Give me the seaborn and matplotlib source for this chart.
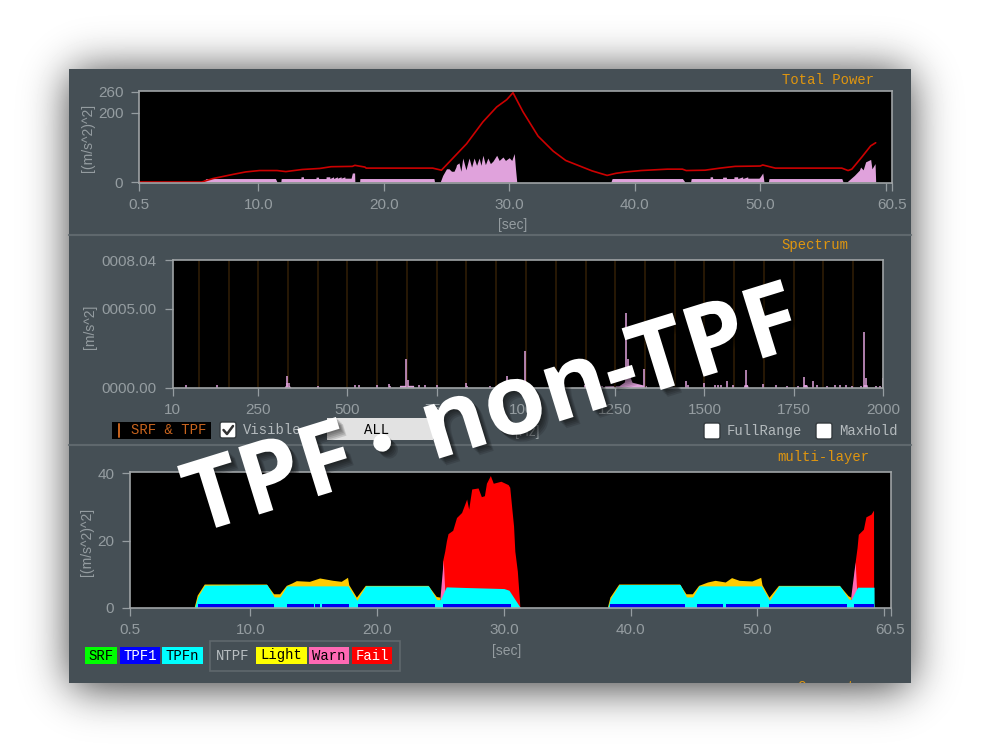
import math

import numpy as np
import seaborn as sns
from matplotlib import patheffects as pe
from matplotlib import pyplot as plt
from matplotlib.patches import FancyBboxPatch, Rectangle

W, H = 981, 752
PANEL = '#454f55'
GREY = '#959da1'
ORANGE = '#e0960f'
PINK = '#e0a2dc'
nan = float('nan')

# Total Power
power_t = [0.5, 5.5, 6.4, 8.0, 9.0, 10.1, 11.5, 12.2, 13.5, 14.9, 15.8, 17.5, 17.7, 18.5, 18.6, 23.9, 24.6,
           26.6, 27.9, 29.0, 29.8, 30.3, 31.1, 32.3, 33.5, 34.5, 36.6, 37.8, 38.5, 39.3, 40.5, 42.6, 43.8,
           44.1, 45.6, 46.8, 48.0, 50.0, 50.2, 51.2, 56.5, 57.0, 57.3, 58.1, 58.8, 59.2]
power_v = [0, 0, 10, 22, 29, 33, 33, 30, 36, 39, 44, 45, 48, 43, 40, 40, 34,
           110, 173, 216, 237, 257, 202, 132, 89, 62, 32, 19, 25, 29, 33, 37, 37,
           33, 34, 40, 45, 46, 49, 40, 40, 33, 37, 72, 104, 113]
layer_t = [5.5, 5.86, 11.37, 11.5, 11.8, 11.83, 13.4, 13.41, 13.6, 13.61, 14.6, 14.61, 14.8, 14.81, 15.4, 15.41,
           15.7, 15.71, 16.0, 16.01, 16.3, 16.31, 16.6, 16.61, 16.9, 16.91, 17.4, 17.5, 17.68, 17.7, 18.08, 18.1,
           24.0, 24.05, 24.5, 24.7, 25.0, 25.2, 25.4, 25.6, 25.75, 25.8, 26.0, 26.15, 26.3, 26.55, 26.8, 27.0, 27.2,
           27.4, 27.6, 27.75, 27.9, 28.1, 28.3, 28.5, 28.7, 29.0, 29.2, 29.5, 29.7, 30.0, 30.2, 30.4, 30.5, 30.6,
           38.1, 38.2, 43.8, 44.0, 44.45, 44.5, 46.0, 46.01, 46.2, 46.21, 47.0, 47.01, 47.3, 47.31, 47.9, 47.91,
           48.2, 48.21, 48.6, 48.61, 49.0, 49.01, 49.9, 50.0, 50.2, 50.3, 50.65, 50.7, 56.5, 56.6, 56.9, 57.5,
           57.9, 58.0, 58.2, 58.4, 58.8, 58.9, 59.15, 59.2]
layer_v = [0, 10, 10, 0, 0, 10, 10, 15, 15, 10, 10, 14, 14, 10, 10, 15,
           15, 10, 15, 10, 15, 11, 15, 11, 15, 11, 11, 26, 26, 0, 0, 10,
           10, 0, 0, 19, 38, 38, 31, 31, 43, 50, 55, 31, 69, 35, 69, 43, 69,
           48, 69, 48, 77, 50, 69, 53, 60, 77, 62, 72, 62, 70, 62, 82, 38, 0,
           0, 10, 10, 0, 0, 10, 10, 15, 15, 10, 10, 14, 14, 10, 10, 15,
           15, 10, 15, 10, 15, 11, 11, 15, 26, 0, 0, 10, 10, 0, 0, 19,
           34, 43, 35, 58, 65, 38, 53, 0]

# Spectrum
order_hz = [83, 167, 250, 333, 417, 500, 583, 667, 750, 833, 917, 1000, 1083, 1167, 1250, 1333, 1417, 1500,
            1583, 1667, 1750, 1833, 1917]
peak_hz = [49, 134, 330, 332, 335, 417, 521, 533, 584, 615, 620, 665, 670, 701, 716, 750, 832, 836, 898,
           947, 953, 959, 998, 1003, 1066, 1083, 1164, 1194, 1213, 1281, 1286, 1331, 1449, 1454, 1498, 1530,
           1537, 1545, 1564, 1581, 1615, 1664, 1699, 1730, 1763, 1780, 1805, 1816, 1844, 1865, 1879, 1897,
           1914, 1937, 1948, 1952, 1980, 1991, 1999]
peak_v = [0.15, 0.15, 0.3, 0.75, 0.3, 0.12, 0.15, 0.15, 0.15, 0.25, 0.12, 1.8, 0.5, 0.15, 0.15, 0.15, 0.3, 0.1, 0.12,
          0.75, 0.2, 0.12, 2.3, 0.3, 0.12, 0.12, 0.2, 0.12, 0.1, 4.7, 1.8, 1.2, 0.4, 0.15, 0.28, 0.15,
          0.2, 0.15, 0.4, 0.2, 1.1, 0.25, 0.15, 0.12, 0.12, 0.65, 0.4, 0.15, 0.12, 0.2, 0.2, 0.15,
          0.12, 0.12, 3.5, 0.6, 0.12, 0.12, 0.6]
hump_hz = [322, 325, 338, 342, 645, 646, 685, 686, 1219, 1220, 1260, 1275, 1281, 1291, 1297, 1337, 1338,
           1608, 1611, 1620, 1623, 1774, 1778, 1786, 1790, 1943, 1945, 1955, 1957]
hump_v = [0, 0.12, 0.12, 0, 0, 0.15, 0.15, 0, 0, 0.1, 0.12, 0.35, 0.7, 0.7, 0.35, 0.12, 0,
          0, 0.2, 0.2, 0, 0, 0.2, 0.2, 0, 0, 0.2, 0.2, 0]

# multi-layer
cyan_t = [5.6, 5.84, 6.4, 11.3, 11.87, 12.34, 12.87, 17.7, 18.4, 19.1, 24.05, 24.7, 25.0, 25.45, 27.1, 30.0, 30.4,
          31.3, 38.2, 38.4, 39.1, 43.9, 44.4, 44.9, 45.4, 50.3, 50.95, 51.7, 56.5, 57.2, 57.4, 57.9, 59.2, 59.21]
cyan_v = [0, 3.2, 6.7, 6.9, 3.2, 3.2, 6.5, 6.5, 2.2, 6.5, 6.5, 2.4, 2.4, 6.2, 6.0, 5.7, 5.2,
          0, 0, 2.7, 6.9, 6.9, 3.2, 3.2, 6.5, 6.5, 2.2, 6.5, 6.5, 2.6, 2.4, 6.1, 6.1, 0]
gold_t = [5.6, 5.84, 6.4, 11.3, 11.87, 12.34, 12.87, 13.3, 13.66, 14.7, 15.5, 16.55, 17.2, 17.7, 17.8, 18.4, 19.1,
          24.05, 24.7, 25.0, nan, 38.2, 38.4, 39.1, 43.9, 44.4, 44.9, 45.4, 46.1, 46.7, 47.5, 48.0, 48.6, 49.6, 50.3,
          50.4, 50.95, 51.7, 56.5, 57.2, 57.4]
gold_v = [0, 3.6, 6.9, 6.9, 4.0, 4.0, 6.5, 7.2, 7.9, 7.7, 8.7, 8.0, 7.7, 8.9, 6.7, 3.0, 6.5,
          6.5, 3.2, 3.0, nan, 0, 3.0, 6.9, 6.9, 4.0, 4.0, 6.5, 7.5, 8.0, 7.5, 8.8, 8.0, 7.8, 8.9,
          6.7, 3.0, 6.5, 6.5, 3.4, 3.0]
warn_t = [25.0, 25.25, 25.4, nan, 57.4, 57.75, 57.9]
warn_v = [3.0, 14.0, 3.0, nan, 3.0, 13.5, 3.0]
fail_t = [25.2, 25.37, 25.5, 25.63, 26.0, 26.3, 26.7, 27.1, 27.26, 27.5, 28.0, 28.26, 28.5, 28.66, 28.97, 29.2, 29.8,
          30.37, 30.5, 30.68, 30.8, 30.9, 31.1, 31.3, nan, 57.5, 57.75, 57.9, 58.0, 58.4, 58.6, 59.0, 59.2, 59.21]
fail_v = [13.7, 16.7, 19.7, 21.9, 22.9, 26.7, 28.2, 32.2, 29.2, 35.2, 35.5, 32.9, 33.2, 36.9, 39.2, 36.9, 37.5,
          36.5, 35.7, 28.7, 24.2, 16.7, 10.7, 0, nan, 3, 13.5, 17.7, 21.7, 23.2, 26.9, 27.7, 28.9, 0]
tpf1_start = [5.9, 12.9, 15.1, 15.63, 18.5, 25.2, 38.4, 45.2, 47.5, 50.9, 57.65]
tpf1_end = [11.87, 15.0, 15.5, 17.8, 24.6, 30.55, 44.3, 47.3, 50.2, 57.1, 59.2]

sec_ticks = [0.5, 10, 20, 30, 40, 50, 60, 60.5]
sec_labels = ['0.5', '10.0', '20.0', '30.0', '40.0', '50.0', '', '60.5']
hz_ticks = [10, 250, 500, 750, 1000, 1250, 1500, 1750, 2000]


def add_axes(left, top, right, bottom):
    ax = fig.add_axes([left / W, 1 - bottom / H, (right - left) / W, (bottom - top) / H], zorder=2)
    ax.set_facecolor('black')
    for spine in ax.spines.values():
        spine.set_color('#9ea3a5')
        spine.set_linewidth(1.2)
    ax.grid(False)
    ax.tick_params(colors=GREY, length=5.8, width=0.9, pad=5.5, labelsize=11, bottom=True, left=True)
    return ax


def mono(x, y, s, color='#b4babd', size=10, **kw):
    return bg.text(x, y, s, color=color, fontsize=size, family='Liberation Mono', ha='center', va='center', **kw)


def plain(x, y, s, rotation=0):
    bg.text(x, y, s, color=GREY, fontsize=10, family='Liberation Sans', ha='center', va='center', rotation=rotation)


def chip(left, right, top, bottom, color, s, text_color):
    bg.add_patch(Rectangle((left, top), right - left, bottom - top, color=color, lw=0))
    mono((left + right) / 2, (top + bottom) / 2, s, color=text_color, size=10)


def checkbox(left, top, checked=False):
    bg.add_patch(FancyBboxPatch((left + 1, top + 1), 14, 14, boxstyle='round,pad=1,rounding_size=2',
                                fc='white', ec='#33393d', lw=1))
    if checked:
        bg.plot([left + 3.5, left + 7, left + 13], [top + 8, top + 12, top + 4], color='#333333', lw=1.8)


def big(x, y, s, ha, size=71):
    top.text(x, y, s, color='white', fontsize=size, fontweight='bold', rotation=17.2, rotation_mode='anchor',
             ha=ha, va='baseline', family=['Open Sans', 'Noto Sans CJK JP'], path_effects=soft)


sns.set_theme(style='dark')
plt.rcParams['font.family'] = ['Liberation Sans', 'DejaVu Sans']
fig = plt.figure(figsize=(W / 100, H / 100), dpi=100, facecolor='white')

bg = fig.add_axes([0, 0, 1, 1], zorder=1)
bg.axis('off')

# blurred drop shadow under the window
erf = np.vectorize(math.erf)
sx, sy = np.arange(W) + 0.5, np.arange(H) + 0.5
blur = 22 * math.sqrt(2)
shade_x = 0.5 * (erf((sx - 71) / blur) - erf((sx - 909) / blur))
shade_y = 0.5 * (erf((sy - 72) / blur) - erf((sy - 687) / blur))
bg.imshow(1 - 0.8 * np.outer(shade_y, shade_x), cmap='gray', vmin=0, vmax=1, extent=(0, W, H, 0), aspect='auto')
bg.set_xlim(0, W)
bg.set_ylim(H, 0)

window = Rectangle((69, 69), 842, 614, color=PANEL, lw=0)
bg.add_patch(window)
bg.plot([69, 911], [235, 235], color='#5f686d', lw=1.5)
bg.plot([69, 911], [445, 445], color='#5f686d', lw=1.5)

# Total Power
ax1 = add_axes(139, 91, 892, 182.7)
ax1.fill_between(layer_t, layer_v, color=PINK, lw=0)
sns.lineplot(x=power_t, y=power_v, color='#cc0000', linewidth=1.2, ax=ax1, errorbar=None, sort=False)
ax1.set_xlim(0.5, 60.5)
ax1.set_ylim(-2, 262)
ax1.set_xticks(sec_ticks, sec_labels)
ax1.set_yticks([0, 200, 260])
mono(828, 80, 'Total Power', color=ORANGE)
plain(513, 225, '[sec]')
plain(88, 138, '[(m/s^2)^2]', rotation=90)

# Spectrum
ax2 = add_axes(172.5, 259.5, 883, 387.7)
ax2.vlines(order_hz, 0, 8.1, color='#2e1c06', lw=1.2)
ax2.fill_between(hump_hz, hump_v, color=PINK, lw=0)
ax2.vlines(peak_hz, 0, peak_v, color=PINK, lw=1.1)
ax2.set_xlim(10, 2000)
ax2.set_ylim(0, 8.1)
ax2.set_xticks(hz_ticks, [str(v) for v in hz_ticks])
ax2.set_yticks([0, 5, 8.04], ['0000.00', '0005.00', '0008.04'])
mono(815, 245, 'Spectrum', color=ORANGE)
plain(90, 327, '[m/s^2]', rotation=90)
plain(527, 432, '[Hz]')

bg.add_patch(Rectangle((112, 422), 99, 17, color='black', lw=0))
bg.plot([119, 119], [424, 437], color='#c8641e', lw=1.4)
mono(169, 430.5, 'SRF & TPF', color='#c8641e')
checkbox(220, 422, checked=True)
mono(272, 429.5, 'Visible')
bg.add_patch(Rectangle((327, 418), 106, 22, color='#e2e2e2', lw=0))
mono(377, 430, 'ALL', color='black')
checkbox(704, 423)
mono(764, 431, 'FullRange')
checkbox(816, 423)
mono(868, 431, 'MaxHold')

# multi-layer
ax3 = add_axes(130, 472, 890.5, 607.7)
ax3.fill_between(fail_t, fail_v, color='#ff0000', lw=0)
ax3.fill_between(warn_t, warn_v, color='#ff69b4', lw=0)
ax3.fill_between(gold_t, gold_v, color='#ffcc00', lw=0)
ax3.fill_between(cyan_t, cyan_v, color='#00ffff', lw=0)
for start, end in zip(tpf1_start, tpf1_end):
    ax3.fill_between([start, end], [1.0, 1.0], color='#0000ee', lw=0)
ax3.set_xlim(0.5, 60.5)
ax3.set_ylim(0, 40.4)
ax3.set_xticks(sec_ticks, sec_labels)
ax3.set_yticks([0, 20, 40])
mono(823, 457, 'multi-layer', color=ORANGE)
plain(507, 651, '[sec]')
plain(87, 542, '[(m/s^2)^2]', rotation=90)

chip(85, 117, 647, 664, '#00ff00', 'SRF', 'black')
chip(120, 160, 647, 664, '#0000ff', 'TPF1', 'white')
chip(162, 203, 647, 664, '#00ffff', 'TPFn', 'black')
bg.add_patch(Rectangle((209.5, 641), 190, 30, fill=False, ec='#5f686d', lw=1.2))
mono(233, 656, 'NTPF', color='#b9bfc2')
chip(256, 307, 647, 664, '#ffff00', 'Light', 'black')
chip(309, 349, 647, 664, '#ff69b4', 'Warn', 'black')
chip(352, 392, 647, 664, '#ff0000', 'Fail', 'white')

next_title = mono(827, 687, 'Current', color=ORANGE)
next_title.set_clip_on(True)
next_title.set_clip_path(window)

top = fig.add_axes([0, 0, 1, 1], zorder=5)
top.set_xlim(0, W)
top.set_ylim(H, 0)
top.axis('off')
soft = [pe.SimplePatchShadow(offset=(d, -d), shadow_rgbFace='black', alpha=0.13) for d in (5, 4, 3, 2, 1)] + [pe.Normal()]
big(196, 534, 'TPF', 'left')
big(390, 468, '・', 'center', size=50)
big(806, 345, 'non-TPF', 'right')

fig.savefig('out.png', dpi=100, facecolor='white')
